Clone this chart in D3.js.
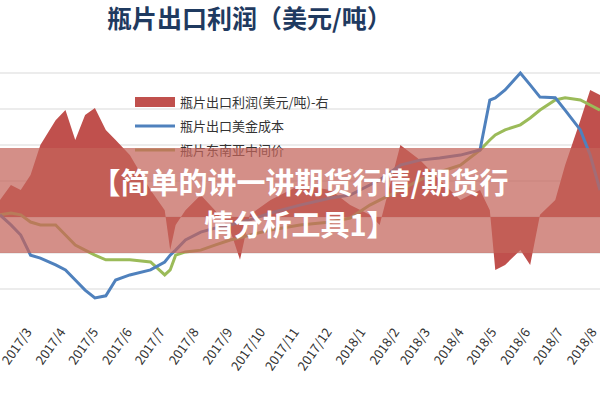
<!DOCTYPE html><html><head><meta charset="utf-8"><script src="https://cdn.jsdelivr.net/npm/d3@7"></script>
<style>body{margin:0;background:#fff}</style></head><body><svg id="c" width="600" height="400"></svg><script>
const dates=["2017-02-03","2017-02-13","2017-02-22","2017-03-03","2017-03-12","2017-03-26","2017-04-04","2017-04-13","2017-04-22","2017-05-01","2017-05-11","2017-05-20","2017-06-02","2017-06-21","2017-07-04","2017-07-09","2017-07-14","2017-07-23","2017-08-06","2017-08-19","2017-09-02","2017-09-11","2017-09-20","2017-10-09","2017-11-05","2017-12-03","2017-12-21","2018-01-08","2018-01-17","2018-02-05","2018-02-23","2018-03-13","2018-04-01","2018-04-19","2018-04-28","2018-05-03","2018-05-12","2018-05-26","2018-06-04","2018-06-13","2018-06-27","2018-07-06","2018-07-20","2018-07-29","2018-08-07"];
const profit=[47,89,75,117,200,269,297,214,283,303,242,214,172,75,19,-92,-22,19,61,19,-36,-119,6,47,89,75,33,6,-22,200,158,103,47,75,19,-147,-133,-92,-133,6,47,144,269,353,339];
const cost=[1006,978,950,894,886,867,853,825,797,775,781,825,839,853,875,894,908,936,958,969,978,986,992,1011,1033,1053,1061,1089,1103,1144,1158,1164,1172,1186,1325,1331,1353,1400,1367,1333,1331,1297,1242,1172,1075];
const seaPrice=[1006,1011,1006,986,978,978,950,922,908,894,881,881,881,875,839,853,894,903,908,922,936,942,950,964,978,986,997,1033,1047,1075,1103,1125,1144,1186,1214,1228,1242,1256,1275,1297,1325,1331,1325,1311,1297];
const tickLabels=["2017/3","2017/4","2017/5","2017/6","2017/7","2017/8","2017/9","2017/10","2017/11","2017/12","2018/1","2018/2","2018/3","2018/4","2018/5","2018/6","2018/7","2018/8"];
const legendNames=["瓶片出口利润(美元/吨)-右","瓶片出口美金成本","瓶片东南亚中间价"];
const title="瓶片出口利润（美元/吨）";
const banner=["【简单的讲一讲期货行情/期货行","情分析工具1】"];
const svg=d3.select("#c");const pd=d3.timeParse("%Y-%m-%d");
const D=dates.map(pd);
const x=d3.scaleTime().domain([pd("2017-02-03"),pd("2018-08-07")]).range([0,600]);
const yL=d3.scaleLinear().domain([800,1400]).range([289,73]);
const yR=d3.scaleLinear().domain([-200,400]).range([289,73]);
svg.append("text").attr("x",107).attr("y",28).attr("font-family","Noto Sans CJK SC").attr("font-weight","bold").attr("font-size",25).attr("fill","#1f3a60").text(title);
svg.append("g").selectAll("line").data(d3.range(800,1500,100)).join("line").attr("x1",0).attr("x2",600).attr("y1",d=>yL(d)).attr("y2",d=>yL(d)).attr("stroke","#d9d9d9");
svg.append("path").datum(profit).attr("fill","#c0504d").attr("d",d3.area().x((d,i)=>x(D[i])).y0(yR(0)).y1(d=>yR(d)));
const ln=(arr,sc)=>d3.line().x((d,i)=>x(D[i])).y(d=>sc(d))(arr);
svg.append("path").attr("d",ln(seaPrice,yL)).attr("fill","none").attr("stroke","#9bbb59").attr("stroke-width",3);
svg.append("path").attr("d",ln(cost,yL)).attr("fill","none").attr("stroke","#4f81bd").attr("stroke-width",3);
const cols=["#c0504d","#4f81bd","#9bbb59"];
const lg=svg.append("g");
legendNames.forEach((n,i)=>{const yy=102+i*24;
 lg.append("rect").attr("x",135).attr("y",yy-(i==0?5:1.5)).attr("width",40).attr("height",i==0?10:3).attr("fill",cols[i]);
 lg.append("text").attr("x",180).attr("y",yy+5).attr("font-family","Noto Sans CJK SC").attr("font-size",13).attr("fill","#333").text(n);});
const months=tickLabels.map(t=>{const [a,b]=t.split("/");return new Date(+a,+b-1,1);});
const xa=svg.append("g");
months.forEach((m,i)=>{xa.append("text").attr("transform",`translate(${x(m)+4},332) rotate(-55)`).attr("text-anchor","end").attr("font-family","Noto Sans CJK SC").attr("font-size",13).attr("fill","#333").text(tickLabels[i]);});
svg.append("rect").attr("x",0).attr("y",148).attr("width",600).attr("height",105).attr("fill","rgba(195,100,90,0.72)");
banner.forEach((t,i)=>svg.append("text").attr("x",300).attr("y",194+i*42).attr("text-anchor","middle").attr("font-family","Noto Sans CJK SC").attr("font-weight","bold").attr("font-size",29).attr("fill","#fff").text(t));
</script></body></html>
